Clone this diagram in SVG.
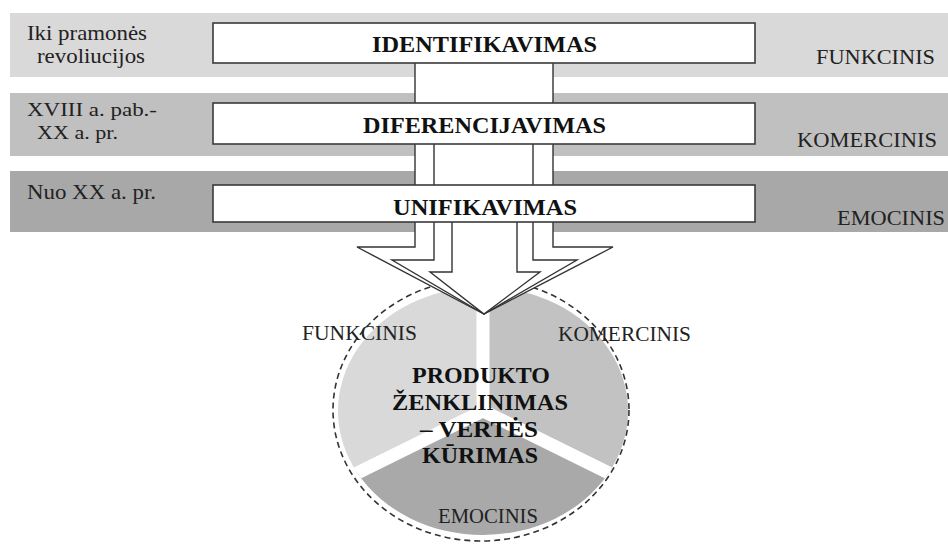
<svg xmlns="http://www.w3.org/2000/svg" width="948" height="544" viewBox="0 0 948 544">
  <style>
    .lbl { font-family: "Liberation Serif", "Times New Roman", serif; font-size: 21px; fill: #222; }
    .tight { font-size: 19px; }
    .side { font-family: "Liberation Serif", "Times New Roman", serif; font-size: 22px; fill: #222; }
    .stage { font-family: "Liberation Serif", "Times New Roman", serif; font-size: 23.5px; font-weight: bold; fill: #111; }
    .core { font-family: "Liberation Serif", "Times New Roman", serif; font-size: 24px; font-weight: bold; fill: #111; }
    .box { fill: #fff; stroke: #3a3a3a; stroke-width: 1.6; }
    .arrow { fill: #fff; stroke: #333; stroke-width: 1.4; stroke-linejoin: miter; }
    .gap { stroke: #fff; stroke-width: 13; }
  </style>
  <defs>
    <clipPath id="pieClip">
      <ellipse cx="483" cy="411" rx="145" ry="124"/>
    </clipPath>
  </defs>

  <rect width="948" height="544" fill="#fff"/>

  <!-- period bands -->
  <g id="band-1">
    <rect x="10" y="13" width="938" height="64" fill="#d9d9d9"/>
    <text class="lbl" x="27" y="40" textLength="120" lengthAdjust="spacingAndGlyphs">Iki pramonės</text>
    <text class="lbl" x="37" y="63" textLength="108" lengthAdjust="spacingAndGlyphs">revoliucijos</text>
    <text class="side" x="816" y="64" textLength="119" lengthAdjust="spacingAndGlyphs">FUNKCINIS</text>
  </g>
  <g id="band-2">
    <rect x="10" y="93" width="938" height="63" fill="#c0c0c0"/>
    <text class="lbl tight" x="27" y="116" textLength="130" lengthAdjust="spacingAndGlyphs">XVIII a. pab.-</text>
    <text class="lbl tight" x="37" y="139" textLength="81" lengthAdjust="spacingAndGlyphs">XX a. pr.</text>
    <text class="side" x="797" y="147" textLength="140" lengthAdjust="spacingAndGlyphs">KOMERCINIS</text>
  </g>
  <g id="band-3">
    <rect x="10" y="171" width="938" height="61" fill="#a8a8a8"/>
    <text class="lbl" x="27" y="199" textLength="129" lengthAdjust="spacingAndGlyphs">Nuo XX a. pr.</text>
    <text class="side" x="837" y="225" textLength="108" lengthAdjust="spacingAndGlyphs">EMOCINIS</text>
  </g>

  <!-- value pie -->
  <g id="value-pie">
    <path d="M483,411 L483,287 A145,124 0 0 0 357.4,473 Z" fill="#d9d9d9"/>
    <path d="M483,411 L483,287 A145,124 0 0 1 608.6,473 Z" fill="#c2c2c2"/>
    <path d="M483,411 L608.6,473 A145,124 0 0 1 357.4,473 Z" fill="#a9a9a9"/>
    <g clip-path="url(#pieClip)">
      <line class="gap" x1="483" y1="411" x2="483" y2="270"/>
      <line class="gap" x1="483" y1="411" x2="325" y2="489"/>
      <line class="gap" x1="483" y1="411" x2="641" y2="489"/>
    </g>
    <ellipse cx="481" cy="410" rx="148" ry="131" fill="none" stroke="#333" stroke-width="1.6" stroke-dasharray="6 4"/>
  </g>

  <!-- converging arrows -->
  <g id="connectors">
    <path class="arrow" d="M415,40 L415,247 L357,247 L484,314 L613,247 L553,247 L553,40 Z"/>
    <path class="arrow" d="M434,120 L434,260 L392,260 L484,314 L577,260 L533,260 L533,120 Z"/>
    <path class="arrow" d="M452,200 L452,272 L430,272 L484,314 L540,272 L517,272 L517,200 Z"/>
  </g>

  <!-- stage boxes -->
  <g id="stage-identifikavimas">
    <rect class="box" x="213" y="23" width="542" height="40"/>
    <text class="stage" x="372" y="52" textLength="225" lengthAdjust="spacingAndGlyphs">IDENTIFIKAVIMAS</text>
  </g>
  <g id="stage-diferencijavimas">
    <rect class="box" x="213" y="103" width="542" height="41"/>
    <text class="stage" x="363" y="133" textLength="243" lengthAdjust="spacingAndGlyphs">DIFERENCIJAVIMAS</text>
  </g>
  <g id="stage-unifikavimas">
    <rect class="box" x="213" y="185" width="542" height="37"/>
    <text class="stage" x="393" y="215" textLength="184" lengthAdjust="spacingAndGlyphs">UNIFIKAVIMAS</text>
  </g>

  <!-- pie labels -->
  <g id="pie-labels">
    <text class="lbl" x="302" y="340" textLength="115" lengthAdjust="spacingAndGlyphs">FUNKCINIS</text>
    <text class="lbl" x="558" y="341" textLength="133" lengthAdjust="spacingAndGlyphs">KOMERCINIS</text>
    <text class="lbl" x="438" y="523" textLength="100" lengthAdjust="spacingAndGlyphs">EMOCINIS</text>
  </g>
  <g id="pie-center">
    <text class="core" x="412" y="383" textLength="138" lengthAdjust="spacingAndGlyphs">PRODUKTO</text>
    <text class="core" x="392" y="410" textLength="176" lengthAdjust="spacingAndGlyphs">ŽENKLINIMAS</text>
    <text class="core" x="420" y="437" textLength="118" lengthAdjust="spacingAndGlyphs">– VERTĖS</text>
    <text class="core" x="422" y="463" textLength="116" lengthAdjust="spacingAndGlyphs">KŪRIMAS</text>
  </g>
</svg>
